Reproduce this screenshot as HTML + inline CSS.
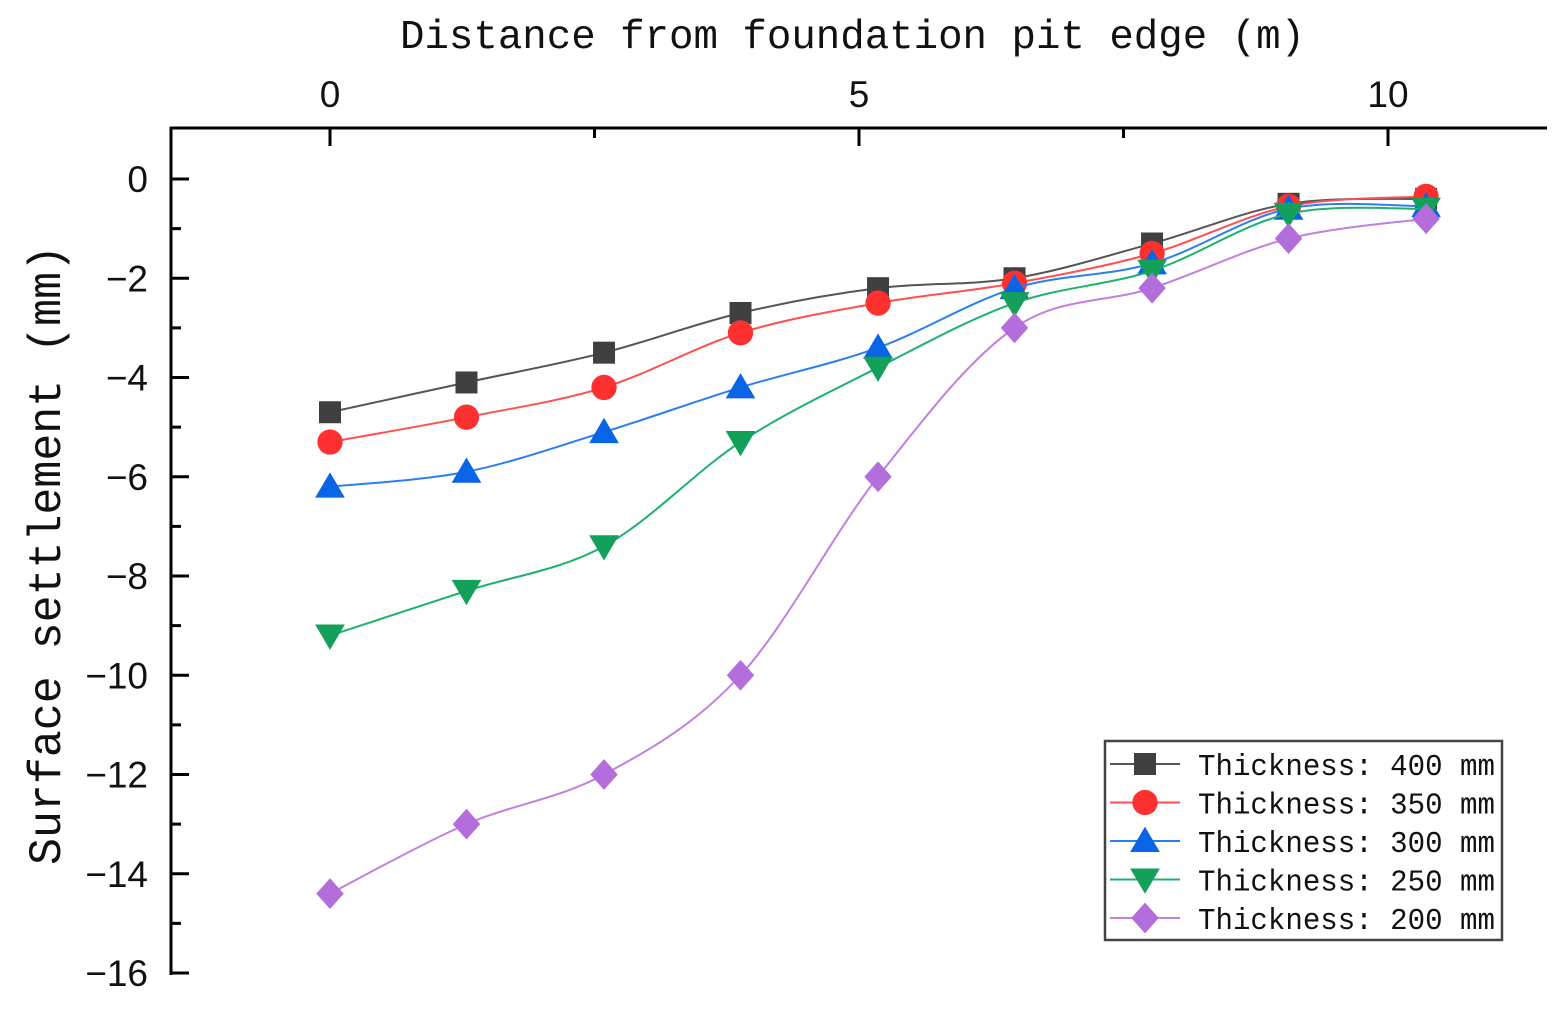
<!DOCTYPE html>
<html><head><meta charset="utf-8"><style>
html,body{margin:0;padding:0;background:#fff;}
svg{display:block;}
.tk{font-family:"Liberation Sans",sans-serif;font-size:37px;fill:#111;}
.mono{font-family:"Liberation Mono","Noto Serif CJK SC",monospace;fill:#111;}
</style></head><body>
<svg id="chart" width="1557" height="1011" viewBox="0 0 1557 1011">
<g id="axes"></g>
<g id="series"></g>
<g id="legend"></g>
<text class="mono" x="400" y="48" font-size="41" textLength="905" lengthAdjust="spacingAndGlyphs">Distance from foundation pit edge (m)</text>
<text class="mono" x="0" y="0" font-size="46" textLength="620" lengthAdjust="spacingAndGlyphs" transform="translate(60,865) rotate(-90)">Surface settlement (mm)</text>
</svg>
<script>
const xValues=[0,1.29,2.59,3.88,5.18,6.47,7.77,9.06,10.36];
const s400=[-4.7,-4.1,-3.5,-2.7,-2.2,-2.0,-1.3,-0.5,-0.4];
const s350=[-5.3,-4.8,-4.2,-3.1,-2.5,-2.1,-1.5,-0.55,-0.35];
const s300=[-6.2,-5.9,-5.1,-4.2,-3.4,-2.2,-1.7,-0.6,-0.55];
const s250=[-9.2,-8.3,-7.4,-5.3,-3.8,-2.5,-1.85,-0.7,-0.6];
const s200=[-14.4,-13.0,-12.0,-10.0,-6.0,-3.0,-2.2,-1.2,-0.8];
const seriesNames=["Thickness: 400 mm","Thickness: 350 mm","Thickness: 300 mm","Thickness: 250 mm","Thickness: 200 mm"];
const xTicks=[0,5,10];
const xMinorTicks=[2.5,7.5];
const yTicks=[0,-2,-4,-6,-8,-10,-12,-14,-16];

const NS="http://www.w3.org/2000/svg";
const X=v=>330+v*105.8;
const Y=v=>179-v*49.625;
function mk(tag,attrs,parent){const e=document.createElementNS(NS,tag);for(const k in attrs)e.setAttribute(k,attrs[k]);parent.appendChild(e);return e;}
const axes=document.getElementById('axes');
let e=mk('line',{x1:170,y1:128,x2:1547,y2:128,stroke:'#000','stroke-width':3},axes);


e=mk('line',{x1:171,y1:127,x2:171,y2:975,stroke:'#000','stroke-width':3},axes);


xTicks.forEach(t=>{
 mk('line',{x1:X(t),y1:128,x2:X(t),y2:146,stroke:'#000','stroke-width':3},axes);
 const tx=mk('text',{x:X(t),y:107,'text-anchor':'middle',class:'tk'},axes);tx.textContent=t;
 
 
});
xMinorTicks.forEach(t=>{mk('line',{x1:X(t),y1:128,x2:X(t),y2:138,stroke:'#000','stroke-width':3},axes);});
yTicks.forEach(t=>{
 mk('line',{x1:171,y1:Y(t),x2:189,y2:Y(t),stroke:'#000','stroke-width':3},axes);
 if(t>-16) mk('line',{x1:171,y1:Y(t-1),x2:181,y2:Y(t-1),stroke:'#000','stroke-width':3},axes);
 const tx=mk('text',{x:148,y:Y(t)+13,'text-anchor':'end',class:'tk'},axes);tx.textContent=t===0?'0':'\u2212'+Math.abs(t);
 
 
});
const colors=['#404040','#ff3030','#0a64e6','#12a05a','#b46edc'];
const lineColors=['#555','#ff5050','#2a80f0','#20b070','#c080e0'];
const shapes=['square','circle','up','down','diamond'];
const data=[s400,s350,s300,s250,s200];
function marker(g,shape,cx,cy,c,r){
 if(shape==='square')return mk('rect',{x:cx-r,y:cy-r,width:2*r,height:2*r,fill:c},g);
 if(shape==='circle')return mk('circle',{cx,cy,r:r*1.15,fill:c},g);
 if(shape==='up')return mk('polygon',{points:`${cx},${cy-r*1.3} ${cx+r*1.35},${cy+r} ${cx-r*1.35},${cy+r}`,fill:c},g);
 if(shape==='down')return mk('polygon',{points:`${cx},${cy+r*1.3} ${cx+r*1.35},${cy-r} ${cx-r*1.35},${cy-r}`,fill:c},g);
 return mk('polygon',{points:`${cx},${cy-r*1.4} ${cx+r*1.25},${cy} ${cx},${cy+r*1.4} ${cx-r*1.25},${cy}`,fill:c},g);
}
function spline(pts){
 let d=`M${pts[0][0]},${pts[0][1]}`;
 for(let i=0;i<pts.length-1;i++){
  const p0=pts[Math.max(i-1,0)],p1=pts[i],p2=pts[i+1],p3=pts[Math.min(i+2,pts.length-1)];
  const c1=[p1[0]+(p2[0]-p0[0])/6,p1[1]+(p2[1]-p0[1])/6];
  const c2=[p2[0]-(p3[0]-p1[0])/6,p2[1]-(p3[1]-p1[1])/6];
  d+=` C${c1[0]},${c1[1]} ${c2[0]},${c2[1]} ${p2[0]},${p2[1]}`;
 }
 return d;
}
const sg=document.getElementById('series');
data.forEach((arr,k)=>{
 const g=mk('g',{},sg);
 
 
 const pts=arr.map((v,i)=>[X(xValues[i]),Y(v)]);
 const p=mk('path',{d:spline(pts),fill:'none',stroke:lineColors[k],'stroke-width':2},g);
 
 
 pts.forEach(q=>{const m=marker(g,shapes[k],q[0],q[1],colors[k],11);
  
  });
});
const lg=document.getElementById('legend');
const box=mk('rect',{x:1105,y:741,width:397,height:199,fill:'#fff',stroke:'#444','stroke-width':2.5},lg);


seriesNames.forEach((n,k)=>{
 const y=764+k*38.5;
 const g=mk('g',{},lg);
 
 
 mk('line',{x1:1110,y1:y,x2:1180,y2:y,stroke:lineColors[k],'stroke-width':2},g);
 marker(g,shapes[k],1145,y,colors[k],11);
 const t=mk('text',{x:1198,y:y+11,class:'mono','font-size':31,textLength:297,lengthAdjust:'spacingAndGlyphs'},g);t.textContent=n;
});
</script>
</body></html>
